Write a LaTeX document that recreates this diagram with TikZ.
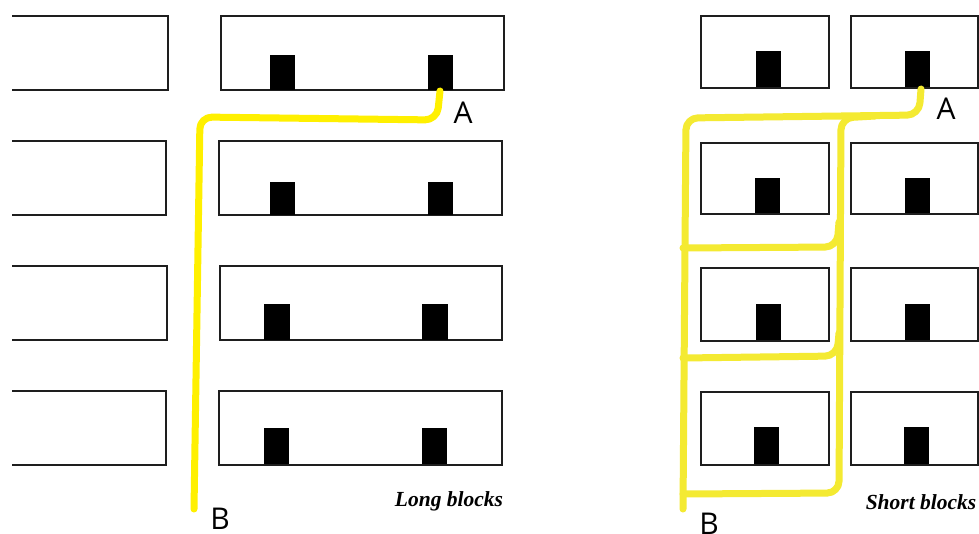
\documentclass[tikz,border=0pt]{standalone}
\usepackage{fontspec}
\setmainfont{Liberation Serif}
\newfontfamily\labelfont{Open Sans}
\definecolor{routeA}{RGB}{255,240,0}
\definecolor{routeB}{RGB}{244,234,50}
\definecolor{edge}{RGB}{30,30,30}
\tikzset{
  blockline/.style={draw=edge, line width=2pt},
  door/.style={fill=black},
  routeL/.style={draw=routeA, line width=7pt, line cap=round, line join=round, rounded corners=12pt},
  routeR/.style={draw=routeB, line width=7pt, line cap=round, line join=round, rounded corners=12pt},
  pointlabel/.style={font=\labelfont\fontsize{30}{30}\selectfont, inner sep=0pt},
  caption/.style={font=\bfseries\itshape\fontsize{21.5}{21.5}\selectfont, inner sep=0pt}
}
\begin{document}
\begin{tikzpicture}[x=1pt, y=-1pt]
\useasboundingbox (0,0) rectangle (979,534);
\fill[white] (0,0) rectangle (979,534);

% ---------- Long blocks ----------
% street-side blocks, cut by the left edge
\draw[blockline] (12,16) -- (168,16) -- (168,90) -- (12,90);
\draw[blockline] (12,141) -- (166,141) -- (166,215) -- (12,215);
\draw[blockline] (12,266) -- (167,266) -- (167,340) -- (12,340);
\draw[blockline] (12,391) -- (166,391) -- (166,465) -- (12,465);

% long blocks with two entrances each
\draw[blockline] (221,16) rectangle (504,90);
\draw[blockline] (219,141) rectangle (502,215);
\draw[blockline] (220,266) rectangle (502,340);
\draw[blockline] (219,391) rectangle (502,465);

\fill[door] (270,55) rectangle (295,90);
\fill[door] (428,55) rectangle (453,90);
\fill[door] (270,182) rectangle (295,215);
\fill[door] (428,182) rectangle (453,215);
\fill[door] (264,304) rectangle (290,340);
\fill[door] (422,304) rectangle (448,340);
\fill[door] (264,428) rectangle (289,464);
\fill[door] (422,428) rectangle (447,464);

% single route from A to B
\coordinate (lA) at (440,91);
\coordinate (lB) at (194,509);
\draw[routeL] (lA) -- (437,120) -- (200,117) -- (lB);

\node[pointlabel] (labA1) at (463,113) {A};
\node[pointlabel] (labB1) at (220,519) {B};
\node[caption] (capL) at (449,501) {Long blocks};

% ---------- Short blocks ----------
\foreach \yt/\yb in {16/88, 143/214, 268/341, 392/465}{
  \draw[blockline] (701,\yt) rectangle (829,\yb);
  \draw[blockline] (851,\yt) rectangle (978,\yb);
}
\fill[door] (756,51) rectangle (781,87);
\fill[door] (905,51) rectangle (930,87);
\fill[door] (755,178) rectangle (780,213);
\fill[door] (905,178) rectangle (930,213);
\fill[door] (756,304) rectangle (781,340);
\fill[door] (905,304) rectangle (930,340);
\fill[door] (754,427) rectangle (779,464);
\fill[door] (904,427) rectangle (929,464);

% network of alternative routes from A to B
\coordinate (rA) at (921,89);
\coordinate (rB) at (683,509);
\draw[routeR] (rA) -- (919,115) -- (686,118) -- (rB);
\draw[routeR] (875,116) -- (841,118) -- (839,493) -- (683,494);
\draw[routeR] (683,248) -- (837,247) -- (839,222);
\draw[routeR] (683,358) -- (837,356) -- (839,333);

\node[pointlabel] (labA2) at (946,109) {A};
\node[pointlabel] (labB2) at (709,524) {B};
\node[caption] (capR) at (921,502) {Short blocks};
\end{tikzpicture}
\end{document}
